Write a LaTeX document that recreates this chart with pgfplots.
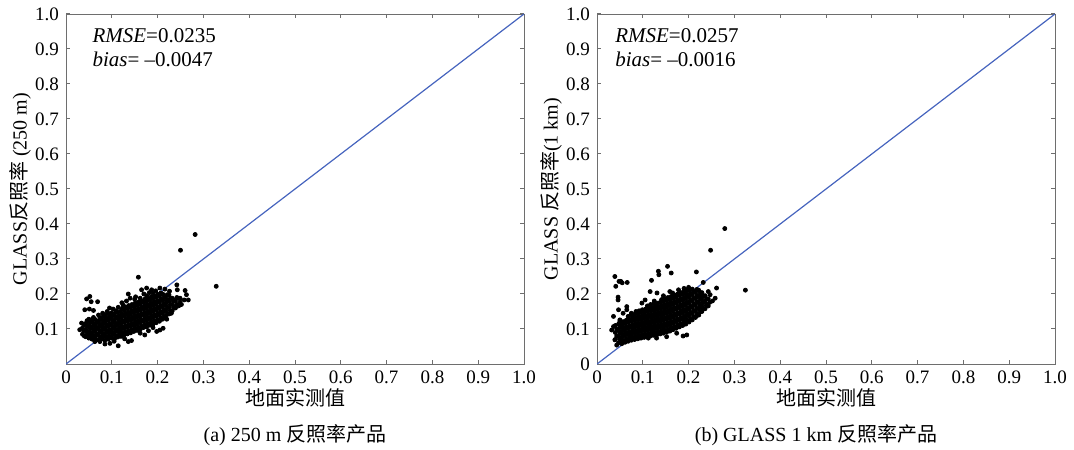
\documentclass[border=0pt]{standalone}
\usepackage{fontspec}
\setmainfont{Liberation Serif}
\newfontfamily\cjk{Noto Sans CJK SC}
\usepackage{pgfplots}
\usepackage{pgfplotstable}
\pgfplotsset{compat=1.18}

\definecolor{oneline}{RGB}{70,100,190}
\definecolor{axgray}{RGB}{110,110,110}

% dense core of panel (a), 250 m
\pgfplotstableread{
x y
0.036 0.085
0.039 0.094
0.036 0.103
0.039 0.112
0.043 0.078
0.046 0.088
0.043 0.097
0.046 0.106
0.043 0.116
0.046 0.124
0.050 0.074
0.053 0.083
0.050 0.092
0.053 0.101
0.050 0.110
0.053 0.119
0.050 0.128
0.057 0.071
0.060 0.080
0.057 0.089
0.060 0.098
0.057 0.107
0.060 0.116
0.057 0.125
0.060 0.133
0.064 0.073
0.067 0.082
0.064 0.091
0.067 0.100
0.064 0.109
0.067 0.118
0.064 0.127
0.071 0.069
0.074 0.078
0.071 0.087
0.074 0.096
0.071 0.105
0.074 0.114
0.071 0.123
0.074 0.132
0.071 0.140
0.078 0.072
0.081 0.081
0.078 0.090
0.081 0.099
0.078 0.108
0.081 0.117
0.078 0.126
0.081 0.135
0.085 0.068
0.088 0.077
0.085 0.086
0.088 0.095
0.085 0.104
0.088 0.113
0.085 0.122
0.088 0.131
0.085 0.140
0.092 0.071
0.095 0.080
0.092 0.089
0.095 0.098
0.092 0.107
0.095 0.116
0.092 0.125
0.095 0.134
0.092 0.143
0.099 0.074
0.102 0.083
0.099 0.092
0.102 0.101
0.099 0.110
0.102 0.119
0.099 0.128
0.102 0.137
0.099 0.146
0.106 0.072
0.109 0.081
0.106 0.090
0.109 0.099
0.106 0.108
0.109 0.117
0.106 0.126
0.109 0.135
0.106 0.144
0.109 0.152
0.113 0.077
0.116 0.086
0.113 0.095
0.116 0.104
0.113 0.113
0.116 0.122
0.113 0.131
0.116 0.140
0.113 0.149
0.120 0.079
0.123 0.088
0.120 0.097
0.123 0.106
0.120 0.115
0.123 0.124
0.120 0.133
0.123 0.142
0.120 0.151
0.123 0.159
0.127 0.083
0.130 0.092
0.127 0.101
0.130 0.110
0.127 0.119
0.130 0.128
0.127 0.137
0.130 0.146
0.127 0.155
0.130 0.163
0.134 0.086
0.137 0.095
0.134 0.104
0.137 0.113
0.134 0.122
0.137 0.131
0.134 0.140
0.137 0.149
0.134 0.158
0.137 0.167
0.141 0.089
0.144 0.098
0.141 0.107
0.144 0.116
0.141 0.125
0.144 0.134
0.141 0.143
0.144 0.152
0.141 0.161
0.144 0.170
0.148 0.093
0.151 0.102
0.148 0.111
0.151 0.120
0.148 0.129
0.151 0.138
0.148 0.147
0.151 0.156
0.148 0.165
0.151 0.174
0.155 0.096
0.158 0.105
0.155 0.114
0.158 0.123
0.155 0.132
0.158 0.141
0.155 0.150
0.158 0.159
0.155 0.168
0.158 0.177
0.162 0.099
0.165 0.108
0.162 0.117
0.165 0.126
0.162 0.135
0.165 0.144
0.162 0.153
0.165 0.162
0.162 0.171
0.165 0.180
0.162 0.188
0.169 0.104
0.172 0.113
0.169 0.122
0.172 0.131
0.169 0.140
0.172 0.149
0.169 0.158
0.172 0.167
0.169 0.176
0.172 0.185
0.176 0.106
0.179 0.115
0.176 0.124
0.179 0.133
0.176 0.142
0.179 0.151
0.176 0.160
0.179 0.169
0.176 0.178
0.179 0.187
0.176 0.195
0.183 0.111
0.186 0.120
0.183 0.129
0.186 0.138
0.183 0.147
0.186 0.156
0.183 0.165
0.186 0.174
0.183 0.183
0.186 0.192
0.190 0.114
0.193 0.123
0.190 0.132
0.193 0.141
0.190 0.150
0.193 0.159
0.190 0.168
0.193 0.177
0.190 0.186
0.193 0.195
0.190 0.203
0.197 0.118
0.200 0.127
0.197 0.136
0.200 0.145
0.197 0.154
0.200 0.163
0.197 0.172
0.200 0.181
0.197 0.190
0.200 0.199
0.204 0.122
0.207 0.131
0.204 0.140
0.207 0.149
0.204 0.158
0.207 0.167
0.204 0.176
0.207 0.185
0.204 0.194
0.207 0.203
0.211 0.128
0.214 0.137
0.211 0.146
0.214 0.155
0.211 0.164
0.214 0.173
0.211 0.182
0.214 0.191
0.211 0.200
0.218 0.135
0.221 0.144
0.218 0.153
0.221 0.162
0.218 0.171
0.221 0.180
0.218 0.189
0.221 0.198
0.225 0.143
0.228 0.152
0.225 0.161
0.228 0.170
0.225 0.179
0.228 0.188
0.225 0.197
0.232 0.152
0.235 0.161
0.232 0.170
0.235 0.179
0.232 0.188
0.239 0.160
0.242 0.170
0.239 0.180
0.242 0.190
0.246 0.166
0.249 0.177
0.246 0.188
}\coreA

% scattered points round the core, panel (a)
\pgfplotstableread{
x y
0.282 0.370
0.250 0.325
0.328 0.222
0.158 0.248
0.045 0.186
0.052 0.193
0.055 0.178
0.069 0.178
0.041 0.155
0.051 0.157
0.060 0.153
0.034 0.117
0.030 0.098
0.103 0.157
0.114 0.162
0.125 0.168
0.136 0.200
0.140 0.188
0.150 0.185
0.165 0.212
0.176 0.217
0.187 0.212
0.196 0.209
0.205 0.217
0.216 0.214
0.226 0.208
0.242 0.226
0.243 0.212
0.260 0.210
0.263 0.198
0.258 0.183
0.267 0.183
0.249 0.188
0.234 0.183
0.252 0.170
0.240 0.165
0.230 0.145
0.220 0.128
0.205 0.097
0.198 0.093
0.212 0.102
0.190 0.104
0.172 0.083
0.162 0.088
0.180 0.095
0.114 0.052
0.136 0.064
0.143 0.067
0.128 0.072
0.074 0.064
0.085 0.057
0.096 0.059
0.105 0.065
0.049 0.078
0.056 0.073
0.040 0.080
0.063 0.064
0.090 0.150
0.080 0.145
0.095 0.160
0.122 0.175
0.132 0.180
0.152 0.192
0.170 0.200
0.182 0.204
}\edgeA

% dense core of panel (b), 1 km
\pgfplotstableread{
x y
0.040 0.070
0.043 0.080
0.040 0.090
0.043 0.100
0.040 0.110
0.047 0.060
0.050 0.069
0.047 0.078
0.050 0.087
0.047 0.096
0.050 0.105
0.047 0.114
0.050 0.122
0.054 0.058
0.057 0.067
0.054 0.076
0.057 0.085
0.054 0.094
0.057 0.103
0.054 0.112
0.057 0.121
0.061 0.062
0.064 0.071
0.061 0.080
0.064 0.089
0.061 0.098
0.064 0.107
0.061 0.116
0.064 0.125
0.068 0.065
0.071 0.074
0.068 0.083
0.071 0.092
0.068 0.101
0.071 0.110
0.068 0.119
0.071 0.128
0.068 0.136
0.075 0.068
0.078 0.077
0.075 0.086
0.078 0.095
0.075 0.104
0.078 0.113
0.075 0.122
0.078 0.131
0.075 0.140
0.082 0.070
0.085 0.079
0.082 0.088
0.085 0.097
0.082 0.106
0.085 0.115
0.082 0.124
0.085 0.133
0.082 0.142
0.089 0.072
0.092 0.081
0.089 0.090
0.092 0.099
0.089 0.108
0.092 0.117
0.089 0.126
0.092 0.135
0.089 0.144
0.092 0.152
0.096 0.074
0.099 0.083
0.096 0.092
0.099 0.101
0.096 0.110
0.099 0.119
0.096 0.128
0.099 0.137
0.096 0.146
0.099 0.155
0.103 0.076
0.106 0.085
0.103 0.094
0.106 0.103
0.103 0.112
0.106 0.121
0.103 0.130
0.106 0.139
0.103 0.148
0.106 0.157
0.110 0.078
0.113 0.087
0.110 0.096
0.113 0.105
0.110 0.114
0.113 0.123
0.110 0.132
0.113 0.141
0.110 0.150
0.113 0.159
0.110 0.166
0.117 0.080
0.120 0.089
0.117 0.098
0.120 0.107
0.117 0.116
0.120 0.125
0.117 0.134
0.120 0.143
0.117 0.152
0.120 0.161
0.117 0.170
0.124 0.082
0.127 0.091
0.124 0.100
0.127 0.109
0.124 0.118
0.127 0.127
0.124 0.136
0.127 0.145
0.124 0.154
0.127 0.163
0.124 0.172
0.131 0.084
0.134 0.093
0.131 0.102
0.134 0.111
0.131 0.120
0.134 0.129
0.131 0.138
0.134 0.147
0.131 0.156
0.134 0.165
0.131 0.174
0.138 0.086
0.141 0.095
0.138 0.104
0.141 0.113
0.138 0.122
0.141 0.131
0.138 0.140
0.141 0.149
0.138 0.158
0.141 0.167
0.138 0.176
0.141 0.184
0.145 0.088
0.148 0.097
0.145 0.106
0.148 0.115
0.145 0.124
0.148 0.133
0.145 0.142
0.148 0.151
0.145 0.160
0.148 0.169
0.145 0.178
0.148 0.187
0.152 0.091
0.155 0.100
0.152 0.109
0.155 0.118
0.152 0.127
0.155 0.136
0.152 0.145
0.155 0.154
0.152 0.163
0.155 0.172
0.152 0.181
0.155 0.190
0.159 0.094
0.162 0.103
0.159 0.112
0.162 0.121
0.159 0.130
0.162 0.139
0.159 0.148
0.162 0.157
0.159 0.166
0.162 0.175
0.159 0.184
0.162 0.193
0.166 0.098
0.169 0.107
0.166 0.116
0.169 0.125
0.166 0.134
0.169 0.143
0.166 0.152
0.169 0.161
0.166 0.170
0.169 0.179
0.166 0.188
0.169 0.197
0.173 0.102
0.176 0.111
0.173 0.120
0.176 0.129
0.173 0.138
0.176 0.147
0.173 0.156
0.176 0.165
0.173 0.174
0.176 0.183
0.173 0.192
0.176 0.200
0.180 0.106
0.183 0.115
0.180 0.124
0.183 0.133
0.180 0.142
0.183 0.151
0.180 0.160
0.183 0.169
0.180 0.178
0.183 0.187
0.180 0.196
0.183 0.204
0.187 0.110
0.190 0.119
0.187 0.128
0.190 0.137
0.187 0.146
0.190 0.155
0.187 0.164
0.190 0.173
0.187 0.182
0.190 0.191
0.187 0.200
0.190 0.208
0.194 0.114
0.197 0.123
0.194 0.132
0.197 0.141
0.194 0.150
0.197 0.159
0.194 0.168
0.197 0.177
0.194 0.186
0.197 0.195
0.194 0.204
0.197 0.211
0.201 0.120
0.204 0.129
0.201 0.138
0.204 0.147
0.201 0.156
0.204 0.165
0.201 0.174
0.204 0.183
0.201 0.192
0.204 0.201
0.201 0.210
0.208 0.126
0.211 0.135
0.208 0.144
0.211 0.153
0.208 0.162
0.211 0.171
0.208 0.180
0.211 0.189
0.208 0.198
0.211 0.207
0.208 0.214
0.215 0.133
0.218 0.142
0.215 0.151
0.218 0.160
0.215 0.169
0.218 0.178
0.215 0.187
0.218 0.196
0.215 0.205
0.218 0.213
0.222 0.140
0.225 0.149
0.222 0.158
0.225 0.167
0.222 0.176
0.225 0.185
0.222 0.194
0.225 0.203
0.222 0.211
0.229 0.150
0.232 0.159
0.229 0.168
0.232 0.177
0.229 0.186
0.232 0.195
0.229 0.204
0.236 0.158
0.239 0.167
0.236 0.176
0.239 0.185
0.236 0.194
0.243 0.166
0.246 0.176
0.243 0.186
}\coreB

% scattered points round the core, panel (b)
\pgfplotstableread{
x y
0.279 0.387
0.248 0.325
0.324 0.211
0.154 0.279
0.134 0.265
0.135 0.255
0.162 0.260
0.217 0.263
0.119 0.239
0.039 0.250
0.048 0.236
0.052 0.236
0.055 0.232
0.066 0.233
0.041 0.222
0.046 0.191
0.046 0.183
0.065 0.164
0.036 0.136
0.232 0.233
0.261 0.217
0.258 0.188
0.098 0.174
0.105 0.183
0.116 0.207
0.131 0.203
0.159 0.207
0.178 0.212
0.190 0.216
0.200 0.219
0.243 0.207
0.247 0.198
0.236 0.195
0.252 0.180
0.240 0.170
0.230 0.160
0.222 0.140
0.196 0.083
0.188 0.080
0.174 0.088
0.152 0.078
0.130 0.074
0.112 0.074
0.036 0.107
0.032 0.097
0.039 0.069
0.043 0.054
0.057 0.064
0.072 0.069
0.050 0.126
0.057 0.145
0.065 0.155
0.047 0.155
0.085 0.150
0.075 0.145
0.125 0.180
0.145 0.195
0.165 0.203
}\edgeB

\pgfplotsset{
  scat/.style={
    scale only axis, width=229pt, height=175pt,
    xmin=0, xmax=1, ymin=0, ymax=1,
    xtick={0,0.1,0.2,0.3,0.4,0.5,0.6,0.7,0.8,0.9,1.0},
    xticklabels={0,0.1,0.2,0.3,0.4,0.5,0.6,0.7,0.8,0.9,1.0},
    ytick={0,0.1,0.2,0.3,0.4,0.5,0.6,0.7,0.8,0.9,1.0},
    tick align=inside, tick pos=both,
    major tick length=2.2pt,
    axis line style={axgray},
    tick style={axgray, line width=0.5pt},
    ticklabel style={font=\fontsize{9.5}{11}\selectfont},
    xlabel style={at={(axis description cs:0.5,-0.097)}, anchor=center,
      font=\fontsize{10}{12}\selectfont},
    ylabel style={at={(axis description cs:-0.1,0.5)}, anchor=center,
      rotate=0, font=\fontsize{10}{12}\selectfont},
    xlabel={\cjk 地面实测值},
  },
  pts/.style={only marks, mark=*, mark size=1pt, black, mark options={draw=black, fill=black}},
}

\begin{document}
\begin{tikzpicture}
\useasboundingbox (-33pt,-42.5pt) rectangle (504pt,182pt);

\begin{axis}[scat, at={(0pt,0pt)}, anchor=south west,
    yticklabels={,0.1,0.2,0.3,0.4,0.5,0.6,0.7,0.8,0.9,1.0},
    ylabel={GLASS{\cjk 反照率} (250 m)}]
\addplot[pts] table {\coreA};
\addplot[pts] table {\edgeA};
\addplot[oneline, line width=0.6pt] coordinates {(0,0) (1,1)};
\node[anchor=west, font=\fontsize{10.5}{12}\selectfont, inner sep=0pt] at (axis cs:0.057,0.937) {\textit{RMSE}=0.0235};
\node[anchor=west, font=\fontsize{10.5}{12}\selectfont, inner sep=0pt] at (axis cs:0.057,0.871) {\textit{bias}= \textendash0.0047};
\end{axis}

\begin{axis}[scat, at={(265.5pt,0pt)}, anchor=south west,
    yticklabels={0,0.1,0.2,0.3,0.4,0.5,0.6,0.7,0.8,0.9,1.0},
    ylabel={GLASS {\cjk 反照率}(1 km)}]
\addplot[pts] table {\coreB};
\addplot[pts] table {\edgeB};
\addplot[oneline, line width=0.6pt] coordinates {(0,0) (1,1)};
\node[anchor=west, font=\fontsize{10.5}{12}\selectfont, inner sep=0pt] at (axis cs:0.039,0.937) {\textit{RMSE}=0.0257};
\node[anchor=west, font=\fontsize{10.5}{12}\selectfont, inner sep=0pt] at (axis cs:0.039,0.871) {\textit{bias}= \textendash0.0016};
\end{axis}

\node[font=\fontsize{10}{12}\selectfont] at (114.5pt,-35.5pt) {(a) 250 m {\cjk 反照率产品}};
\node[font=\fontsize{10}{12}\selectfont] at (375pt,-35.5pt) {(b) GLASS 1 km {\cjk 反照率产品}};
\end{tikzpicture}
\end{document}
